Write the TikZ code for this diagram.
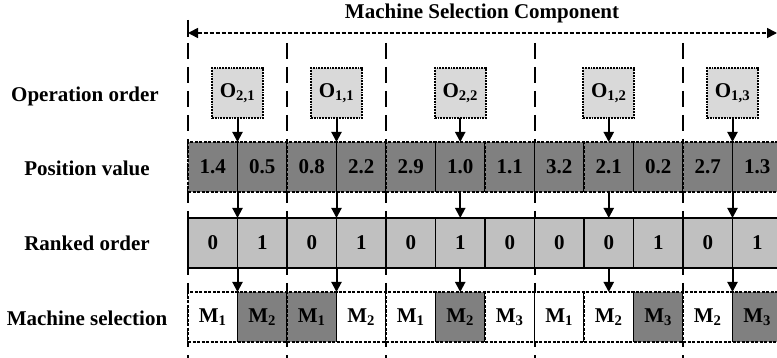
\documentclass[tikz,border=0pt]{standalone}
\usepackage{fontspec}
\setmainfont{Liberation Serif}
\usetikzlibrary{arrows.meta}
\definecolor{dk}{HTML}{808080}
\definecolor{lt}{HTML}{C0C0C0}
\definecolor{opc}{HTML}{D9D9D9}
\begin{document}
\begin{tikzpicture}[x=1pt,y=-1pt,
  txt/.style={font=\fontsize{21}{24}\selectfont\bfseries},
  cell/.style={txt, minimum width=49.5pt, minimum height=50pt, inner sep=0pt, outer sep=0pt},
  posc/.style={cell, fill=dk, draw=black, line width=1.8pt, dash pattern=on 3pt off 1.5pt},
  rankc/.style={cell, fill=lt, draw=black, line width=1.8pt},
  machw/.style={cell, fill=white, draw=black, line width=1.8pt, dash pattern=on 3pt off 1.5pt},
  machd/.style={machw, fill=dk},
  opbox/.style={cell, minimum width=51pt, minimum height=50pt, fill=opc, draw=black, line width=1.8pt, dash pattern=on 1.8pt off 1pt},
  sepline/.style={line width=2pt, dash pattern=on 16pt off 8pt},
  arr/.style={line width=2pt, -{Triangle[length=10pt,width=10pt]}},
  span/.style={line width=1.6pt, dash pattern=on 4pt off 2pt, {Triangle[length=10pt,width=10pt]}-{Triangle[length=10pt,width=10pt]}},
  lab/.style={txt, inner sep=0pt}]
\useasboundingbox (0,0) rectangle (777,358);

% separators
\foreach \k/\x in {0/188,1/287,2/386,3/534.5,4/683,5/782}{
  \coordinate (st\k) at (\x,43);
  \coordinate (sb\k) at (\x,358);
  \draw[sepline] (st\k) -- (sb\k);
}
\coordinate (tk) at (188,20);
\coordinate (tkb) at (188,37);
\draw[line width=2pt] (tk) -- (tkb);

% title and span arrow
\node[lab] (title) at (482,13) {Machine Selection Component};
\coordinate (hl) at (188,33);
\coordinate (hr) at (777,33);
\draw[span] (hl) -- (hr);

% row labels
\node[lab] (l1) at (85,96) {Operation order};
\node[lab] (l2) at (87,168) {Position value};
\node[lab] (l3) at (87,243) {Ranked order};
\node[lab] (l4) at (87,318) {Machine selection};

% position row
\foreach \v [count=\i from 0] in {1.4,0.5,0.8,2.2,2.9,1.0,1.1,3.2,2.1,0.2,2.7,1.3}{
  \node[posc] (p\i) at ({188+49.5*(\i+0.5)},167) {\v};
}
% ranked row
\foreach \v [count=\i from 0] in {0,1,0,1,0,1,0,0,0,1,0,1}{
  \node[rankc] (r\i) at ({188+49.5*(\i+0.5)},243) {\v};
}
% machine row
\foreach \s/\f [count=\i from 0] in {1/machw,2/machd,1/machd,2/machw,1/machw,2/machd,3/machw,1/machw,2/machw,3/machd,2/machw,3/machd}{
  \node[\f] (m\i) at ({188+49.5*(\i+0.5)},317) {M\textsubscript{\s}};
}

% operation boxes
\node[opbox] (o1) at (237.5,93) {O\textsubscript{2,1}};
\node[opbox] (o2) at (336.5,93) {O\textsubscript{1,1}};
\node[opbox] (o3) at (460.25,93) {O\textsubscript{2,2}};
\node[opbox] (o4) at (608.75,93) {O\textsubscript{1,2}};
\node[opbox] (o5) at (732.5,93) {O\textsubscript{1,3}};

% arrows
\draw[arr] (o1.south) -- (p0.north east);
\draw[arr] (o2.south) -- (p2.north east);
\draw[arr] (o3.south) -- (p5.north);
\draw[arr] (o4.south) -- (p8.north);
\draw[arr] (o5.south) -- (p10.north east);

\draw[arr] (p0.south east) -- (r0.north east);
\draw[arr] (p2.south east) -- (r2.north east);
\draw[arr] (p5.south) -- (r5.north);
\draw[arr] (p8.south) -- (r8.north);
\draw[arr] (p10.south east) -- (r10.north east);

\draw[arr] (r0.south east) -- (m0.north east);
\draw[arr] (r2.south east) -- (m2.north east);
\draw[arr] (r5.south) -- (m5.north);
\draw[arr] (r8.south) -- (m8.north);
\draw[arr] (r10.south east) -- (m10.north east);
\end{tikzpicture}
\end{document}
